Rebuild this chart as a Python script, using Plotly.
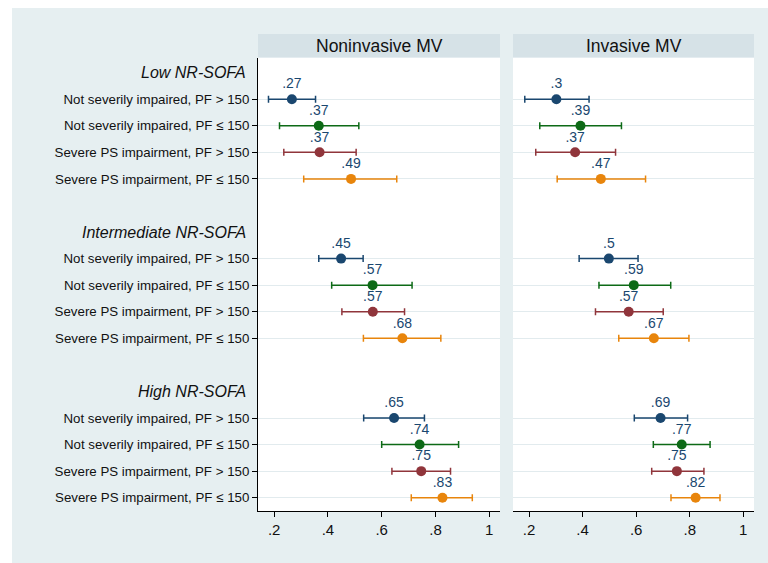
import plotly.graph_objects as go

# ---------------- data ----------------
groups = ["Low NR-SOFA", "Intermediate NR-SOFA", "High NR-SOFA"]
categories = [
    "Not severily impaired, PF > 150",
    "Not severily impaired, PF ≤ 150",
    "Severe PS impairment, PF > 150",
    "Severe PS impairment, PF ≤ 150",
]
panels = ["Noninvasive MV", "Invasive MV"]

# point estimates / lower / upper bounds, per group (rows: Low, Intermediate, High)
noninv_est = [[0.266, 0.366, 0.369, 0.486], [0.449, 0.566, 0.567, 0.677], [0.646, 0.741, 0.747, 0.826]]
noninv_lo = [[0.179, 0.220, 0.236, 0.310], [0.366, 0.414, 0.452, 0.532], [0.533, 0.600, 0.638, 0.710]]
noninv_hi = [[0.354, 0.515, 0.505, 0.656], [0.531, 0.713, 0.685, 0.820], [0.759, 0.886, 0.856, 0.937]]

inv_est = [[0.302, 0.392, 0.372, 0.468], [0.498, 0.591, 0.572, 0.666], [0.691, 0.770, 0.752, 0.822]]
inv_lo = [[0.184, 0.240, 0.225, 0.305], [0.387, 0.461, 0.448, 0.535], [0.593, 0.664, 0.658, 0.730]]
inv_hi = [[0.424, 0.545, 0.523, 0.635], [0.607, 0.729, 0.701, 0.797], [0.792, 0.876, 0.853, 0.913]]

x_ticks = [0.2, 0.4, 0.6, 0.8, 1.0]
x_ticklabels = [".2", ".4", ".6", ".8", "1"]

# ---------------- style ----------------
colors = ["#1a476f", "#0d6a16", "#90353b", "#e8850c"]
label_color = "#1a476f"
bg_color = "#e6eff1"
header_color = "#d6e2e7"
grid_color = "#e2ebee"
FONT = "Liberation Sans, Arial, sans-serif"


def fmt(v):
    s = f"{v:.2f}"
    if s.startswith("0"):
        s = s[1:]
    s = s.rstrip("0").rstrip(".")
    return s


def row_pos(g, k):
    return 6 * g + 1 + k


fig = go.Figure()

panel_data = [
    (noninv_est, noninv_lo, noninv_hi, "x", "y"),
    (inv_est, inv_lo, inv_hi, "x2", "y2"),
]

for est, lo, hi, xa, ya in panel_data:
    for k in range(len(categories)):
        xs = [est[g][k] for g in range(len(groups))]
        ys = [row_pos(g, k) for g in range(len(groups))]
        plus = [hi[g][k] - est[g][k] for g in range(len(groups))]
        minus = [est[g][k] - lo[g][k] for g in range(len(groups))]
        fig.add_trace(go.Scatter(
            x=xs, y=ys, xaxis=xa, yaxis=ya,
            mode="markers+text",
            marker=dict(color=colors[k], size=10),
            text=[fmt(v) for v in xs],
            textposition="top center",
            textfont=dict(color=label_color, size=14, family=FONT),
            error_x=dict(type="data", symmetric=False, array=plus, arrayminus=minus,
                         color=colors[k], thickness=1.5, width=3.5),
            showlegend=False, cliponaxis=False, hoverinfo="skip",
        ))

# ---------------- layout geometry (pixels) ----------------
W, H = 768, 563
L, R, T, B = 258, 14, 58, 52
plot_w = W - L - R
plot_h = H - T - B


def px(xp):
    return (xp - L) / plot_w


def py(yp):
    return (H - B - yp) / plot_h


left_dom = [0, px(500)]
right_dom = [px(513), 1]

row_vals = [row_pos(g, k) for g in range(len(groups)) for k in range(len(categories))]
row_text = [categories[k] for g in range(len(groups)) for k in range(len(categories))]
y_range = [16.5, -0.55]

xaxis_common = dict(range=[0.14, 1.04], tickvals=x_ticks, ticktext=x_ticklabels,
                    showline=True, linecolor="black", linewidth=1, ticks="outside",
                    ticklen=5, tickcolor="black", showgrid=False, zeroline=False,
                    tickfont=dict(size=15, color="#111", family=FONT), fixedrange=True)

fig.update_layout(
    width=W, height=H,
    margin=dict(l=L, r=R, t=T, b=B, pad=0),
    paper_bgcolor="white",
    plot_bgcolor="rgba(0,0,0,0)",
    font=dict(family=FONT, color="#111"),
    xaxis=dict(domain=left_dom, anchor="y", **xaxis_common),
    xaxis2=dict(domain=right_dom, anchor="y2", **xaxis_common),
    yaxis=dict(range=y_range, tickvals=row_vals, ticktext=row_text, anchor="x",
               showline=True, linecolor="black", linewidth=1, ticks="outside",
               ticklen=5, tickcolor="black", showgrid=True, gridcolor=grid_color,
               gridwidth=1, zeroline=False, fixedrange=True,
               tickfont=dict(size=13.3, color="#111", family=FONT)),
    yaxis2=dict(range=y_range, tickvals=row_vals, anchor="x2", showticklabels=False,
                showline=False, ticks="", showgrid=True, gridcolor=grid_color,
                gridwidth=1, zeroline=False, fixedrange=True),
)

shapes = [
    # outer light background
    dict(type="rect", xref="paper", yref="paper", x0=px(12), x1=px(W), y0=py(H), y1=py(8),
         fillcolor=bg_color, line=dict(width=0), layer="below"),
]
for dom in (left_dom, right_dom):
    shapes.append(dict(type="rect", xref="paper", yref="paper", x0=dom[0], x1=dom[1],
                       y0=0, y1=py(57.5), fillcolor="white", line=dict(width=0), layer="below"))
    shapes.append(dict(type="rect", xref="paper", yref="paper", x0=dom[0], x1=dom[1],
                       y0=py(57.5), y1=py(34), fillcolor=header_color, line=dict(width=0),
                       layer="below"))
fig.update_layout(shapes=shapes)

annotations = []
for dom, title in zip((left_dom, right_dom), panels):
    annotations.append(dict(xref="paper", yref="paper", x=(dom[0] + dom[1]) / 2,
                            y=py(46), text=title, showarrow=False, xanchor="center",
                            yanchor="middle", font=dict(size=17.5, color="#111", family=FONT)))
for g, name in enumerate(groups):
    annotations.append(dict(xref="paper", yref="y", x=px(248), y=6 * g,
                            text=f"<i>{name}</i>", showarrow=False, xanchor="right",
                            yanchor="middle", font=dict(size=16, color="#111", family=FONT)))
fig.update_layout(annotations=annotations)

fig.write_html("out.html", config={"displayModeBar": False},
               post_script="document.body.style.margin='0';")
